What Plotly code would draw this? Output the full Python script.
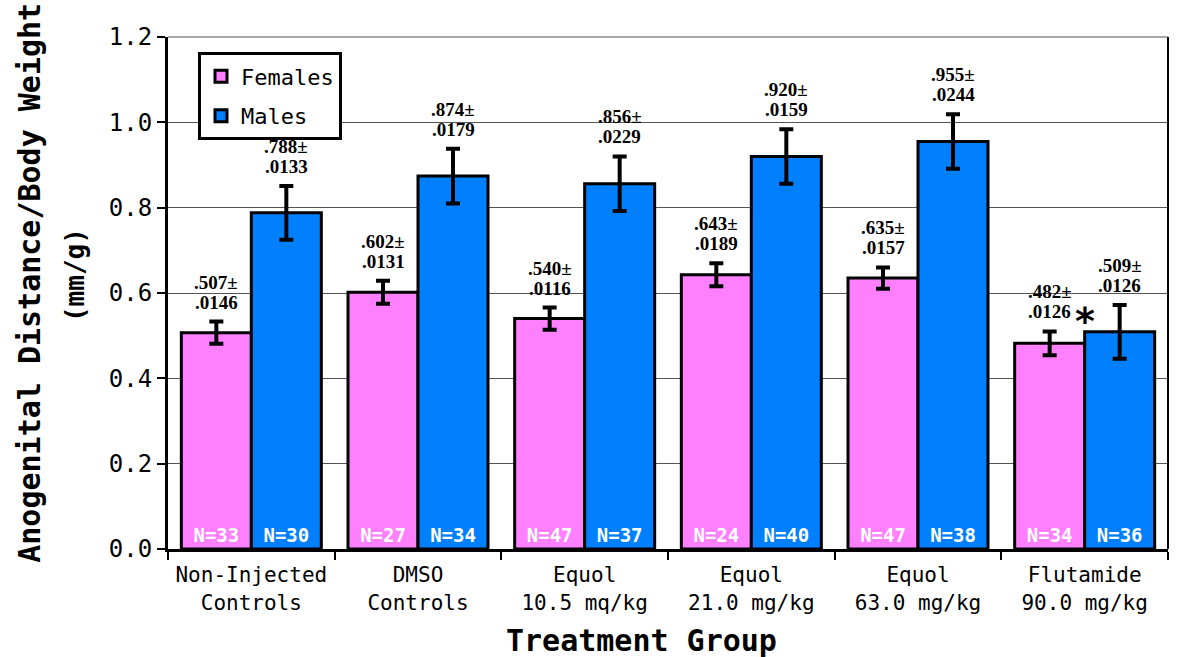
import plotly.graph_objects as go

# Treatment groups and measured anogenital distance / body weight (mm/g)
groups = [
    "Non-Injected<br>Controls",
    "DMSO<br>Controls",
    "Equol<br>10.5 mq/kg",
    "Equol<br>21.0 mg/kg",
    "Equol<br>63.0 mg/kg",
    "Flutamide<br>90.0 mg/kg",
]
female_mean = [0.507, 0.602, 0.540, 0.643, 0.635, 0.482]
female_sem = [0.0146, 0.0131, 0.0116, 0.0189, 0.0157, 0.0126]
male_mean = [0.788, 0.874, 0.856, 0.920, 0.955, 0.509]
male_sem = [0.0133, 0.0179, 0.0229, 0.0159, 0.0244, 0.0126]

# half-length of the plotted error whiskers
female_whisker = [0.026, 0.027, 0.026, 0.027, 0.025, 0.028]
male_whisker = [0.063, 0.064, 0.064, 0.064, 0.064, 0.063]

female_n = [33, 27, 47, 24, 47, 34]
male_n = [30, 34, 37, 40, 38, 36]

PINK = "#FF80FF"
BLUE = "#0080FF"
MONO = "DejaVu Sans Mono"
SERIF = "Liberation Serif"
BAR_GAP = 0.16
HALF_OFF = (1 - BAR_GAP) / 4  # centre offset of each bar within a group

fig = go.Figure()

for name, means, whisk, ns, color, grp in [
    ("Females", female_mean, female_whisker, female_n, PINK, "f"),
    ("Males", male_mean, male_whisker, male_n, BLUE, "m"),
]:
    fig.add_trace(go.Bar(
        name=name,
        x=groups,
        y=means,
        legendgroup=grp,
        marker=dict(color=color, line=dict(color="black", width=3)),
        error_y=dict(type="data", array=whisk, color="black", thickness=4, width=7),
        text=[f"N={n}" for n in ns],
        textposition="inside",
        insidetextanchor="start",
        textangle=0,
        constraintext="none",
        insidetextfont=dict(family=MONO, size=19, color="white", weight="bold"),
    ))


def fmt_mean(v):
    return f"{v:.3f}".lstrip("0")


def fmt_sem(v):
    return f"{v:.4f}".lstrip("0")


annotations = []
for i in range(len(groups)):
    for sign, means, sems, whisk in [
        (-1, female_mean, female_sem, female_whisker),
        (1, male_mean, male_sem, male_whisker),
    ]:
        x = i + sign * HALF_OFF
        top = means[i] + whisk[i]
        label_font = dict(family=SERIF, size=19, color="black")
        annotations.append(dict(
            x=x, y=top, xref="x", yref="y",
            text=f"<b>{fmt_sem(sems[i])}</b>",
            showarrow=False, yanchor="bottom", yshift=7, font=label_font,
        ))
        annotations.append(dict(
            x=x, y=top, xref="x", yref="y",
            text=f"<b>{fmt_mean(means[i])}±</b>",
            showarrow=False, yanchor="bottom", yshift=27, font=label_font,
        ))

# significance marker for the flutamide males
annotations.append(dict(
    x=5, y=0.548, xref="x", yref="y", text="<b>*</b>", showarrow=False,
    yanchor="middle", yshift=-6,
    font=dict(family="DejaVu Sans", size=38, color="black"),
))

# axis titles
annotations.append(dict(
    x=0.473, y=-0.178, xref="paper", yref="paper", text="<b>Treatment Group</b>",
    showarrow=False, xanchor="center", yanchor="middle",
    font=dict(family=MONO, size=30, color="black"),
))
annotations.append(dict(
    x=-0.138, y=0.52, xref="paper", yref="paper",
    text="<b>Anogenital Distance/Body Weight</b>",
    showarrow=False, textangle=-90, xanchor="center", yanchor="middle",
    font=dict(family=MONO, size=30, color="black"),
))
annotations.append(dict(
    x=-0.093, y=0.535, xref="paper", yref="paper", text="<b>(mm/g)</b>",
    showarrow=False, textangle=-90, xanchor="center", yanchor="middle",
    font=dict(family=MONO, size=26, color="black"),
))

fig.update_layout(
    width=1183, height=657,
    margin=dict(l=168, r=15, t=37, b=108),
    paper_bgcolor="white", plot_bgcolor="white",
    barmode="group", bargap=BAR_GAP, bargroupgap=0,
    showlegend=True,
    legend=dict(
        x=0.03, y=0.97, xanchor="left", yanchor="top",
        bordercolor="black", borderwidth=3, bgcolor="white",
        font=dict(family=MONO, size=22, color="black"),
        traceorder="grouped", tracegroupgap=8,
    ),
    annotations=annotations,
    shapes=[
        dict(type="line", xref="paper", yref="paper", x0=1, x1=1, y0=0, y1=1,
             line=dict(color="black", width=2)),
        dict(type="line", xref="paper", yref="paper", x0=0, x1=1, y0=1, y1=1,
             line=dict(color="#555555", width=1)),
    ],
)

fig.update_xaxes(
    type="category", tickson="boundaries", ticks="outside", ticklen=8,
    tickwidth=2, tickcolor="black", showline=True, linecolor="black",
    linewidth=3, showgrid=False, ticklabelstandoff=5,
    tickfont=dict(family=MONO, size=21, color="black"),
)
fig.update_yaxes(
    range=[0, 1.2], dtick=0.2, tickformat=".1f", ticks="outside", ticklen=8,
    tickwidth=2, tickcolor="black", showline=True, linecolor="black",
    linewidth=3, showgrid=True, gridcolor="#555555", gridwidth=1,
    zeroline=False, tickfont=dict(family=MONO, size=24, color="black"),
)

fig.write_html("out.html")
